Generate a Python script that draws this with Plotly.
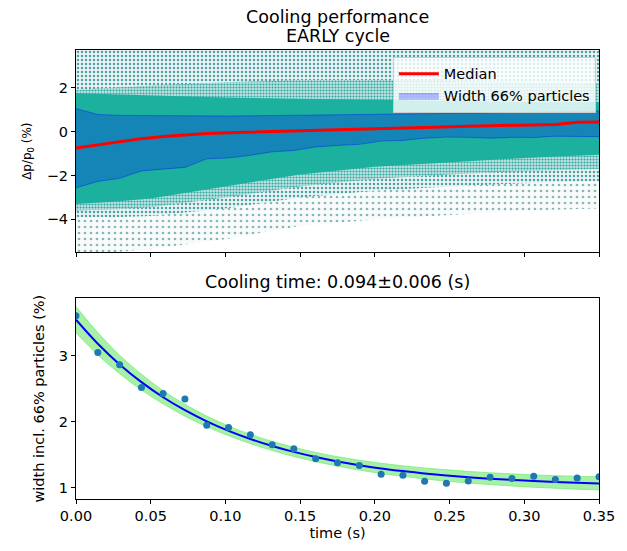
import plotly.graph_objects as go

# ---------------- data ----------------
# sampling times (s)
time_s = [0.0, 0.0146, 0.0292, 0.0438, 0.0583, 0.0729, 0.0875, 0.1021, 0.1167,
          0.1313, 0.1458, 0.1604, 0.175, 0.1896, 0.2042, 0.2188, 0.2333, 0.2479,
          0.2625, 0.2771, 0.2917, 0.3063, 0.3208, 0.3354, 0.35]

# width including 66% of the particles (%) - measured points
width66 = [3.61, 3.05, 2.865, 2.52, 2.43, 2.345, 1.946, 1.91, 1.80, 1.65, 1.59,
           1.436, 1.376, 1.336, 1.20, 1.185, 1.096, 1.066, 1.10, 1.156, 1.135,
           1.17, 1.12, 1.145, 1.165]

# exponential fit (tau = 0.094 s) and its uncertainty band
fit_curve = [3.550, 3.184, 2.870, 2.601, 2.371, 2.174, 2.005, 1.861, 1.737, 1.631,
             1.541, 1.463, 1.396, 1.339, 1.290, 1.249, 1.213, 1.183, 1.156, 1.134,
             1.115, 1.098, 1.084, 1.072, 1.062]
fit_upper = [3.75, 3.354, 3.01, 2.721, 2.471, 2.264, 2.085, 1.936, 1.807, 1.701,
             1.611, 1.533, 1.468, 1.414, 1.368, 1.329, 1.296, 1.269, 1.244, 1.224,
             1.207, 1.192, 1.180, 1.170, 1.162]
fit_lower = [3.35, 3.014, 2.73, 2.481, 2.271, 2.084, 1.925, 1.786, 1.667, 1.561,
             1.471, 1.393, 1.324, 1.264, 1.212, 1.169, 1.130, 1.097, 1.068, 1.044,
             1.023, 1.004, 0.988, 0.974, 0.962]

# momentum spread: median and 66% band edges (%)
median_dp = [-0.75, -0.60, -0.45, -0.32, -0.22, -0.15, -0.09, -0.05, -0.02, 0.0,
             0.05, 0.08, 0.09, 0.12, 0.15, 0.17, 0.19, 0.23, 0.25, 0.27, 0.29,
             0.30, 0.32, 0.43, 0.44]
q_upper = [1.05, 0.78, 0.74, 0.73, 0.72, 0.72, 0.71, 0.71, 0.72, 0.73, 0.73, 0.74,
           0.75, 0.76, 0.77, 0.79, 0.80, 0.82, 0.84, 0.86, 0.88, 0.90, 0.91, 0.93, 0.94]
q_lower = [-2.56, -2.27, -2.13, -1.79, -1.71, -1.63, -1.24, -1.20, -1.08, -0.92,
           -0.86, -0.70, -0.63, -0.58, -0.43, -0.40, -0.30, -0.25, -0.26, -0.30,
           -0.26, -0.27, -0.21, -0.22, -0.23]

# particle density envelopes (%), dense core -> sparse tails
env_time = [0.0, 0.025, 0.05, 0.10, 0.15, 0.20, 0.25, 0.30, 0.35]
core_hi = [1.75, 1.70, 1.65, 1.55, 1.50, 1.45, 1.40, 1.35, 1.35]
core_lo = [-3.30, -3.20, -3.05, -2.50, -1.95, -1.60, -1.40, -1.20, -1.05]
near_hi = [1.90, 2.00, 2.10, 2.25, 2.35, 2.35, 2.30, 2.25, 2.20]
near_lo = [-3.60, -3.55, -3.45, -3.00, -2.50, -2.15, -1.95, -1.80, -1.70]
halo_hi = [3.8, 3.8, 3.8, 3.8, 3.8, 3.8, 3.8, 3.8, 3.8]
halo_lo = [-3.90, -3.90, -3.85, -3.50, -3.00, -2.70, -2.50, -2.35, -2.25]
sparse_hi = [3.8, 3.8, 3.8, 3.8, 3.8, 3.8, 3.8, 3.8, 3.8]
sparse_lo = [-5.60, -5.50, -5.35, -4.90, -4.30, -4.00, -3.80, -3.60, -3.50]

x_ticks = [0.0, 0.05, 0.10, 0.15, 0.20, 0.25, 0.30, 0.35]

FONT = "DejaVu Sans"
TICK = 14.5
TITLE = 17.5

fig = go.Figure()


def region(hi, lo, color, pattern=None):
    kw = {}
    if pattern is not None:
        kw["fillpattern"] = pattern
    fig.add_trace(go.Scatter(
        x=env_time + env_time[::-1], y=hi + lo[::-1],
        fill="toself", fillcolor=color, mode="lines", line=dict(width=0),
        showlegend=False, hoverinfo="skip", xaxis="x", yaxis="y", **kw))


region(sparse_hi, sparse_lo, "#ffffff",
       dict(shape=".", fgcolor="#86b8bb", bgcolor="#f9fbfb", size=6, solidity=0.16,
            fillmode="replace"))
region(halo_hi, halo_lo, "#ffffff",
       dict(shape=".", fgcolor="#4ea3a6", bgcolor="#edf4f4", size=4, solidity=0.32,
            fillmode="replace"))
region(near_hi, near_lo, "#ffffff",
       dict(shape=".", fgcolor="#28a9a2", bgcolor="#c4e2e0", size=3, solidity=0.4,
            fillmode="replace"))
region(core_hi, core_lo, "#1cb09e")

# 66% band
fig.add_trace(go.Scatter(x=time_s, y=q_lower, mode="lines",
                         line=dict(color="rgba(0,0,255,0.35)", width=1),
                         showlegend=False, hoverinfo="skip", xaxis="x", yaxis="y"))
fig.add_trace(go.Scatter(x=time_s, y=q_upper, mode="lines", fill="tonexty",
                         fillcolor="rgba(0,0,255,0.25)",
                         line=dict(color="rgba(0,0,255,0.35)", width=1),
                         name="Width 66% particles", legendrank=2,
                         xaxis="x", yaxis="y"))
fig.add_trace(go.Scatter(x=time_s, y=median_dp, mode="lines",
                         line=dict(color="red", width=3),
                         name="Median", legendrank=1, xaxis="x", yaxis="y"))

# bottom panel
fig.add_trace(go.Scatter(x=time_s, y=fit_lower, mode="lines",
                         line=dict(color="rgba(120,235,120,0.75)", width=1, shape="spline"),
                         showlegend=False, hoverinfo="skip", xaxis="x2", yaxis="y2"))
fig.add_trace(go.Scatter(x=time_s, y=fit_upper, mode="lines", fill="tonexty",
                         fillcolor="rgba(144,238,144,0.8)",
                         line=dict(color="rgba(120,235,120,0.75)", width=1, shape="spline"),
                         showlegend=False, hoverinfo="skip", xaxis="x2", yaxis="y2"))
fig.add_trace(go.Scatter(x=time_s, y=fit_curve, mode="lines",
                         line=dict(color="#0000ff", width=2, shape="spline"),
                         showlegend=False, xaxis="x2", yaxis="y2"))
fig.add_trace(go.Scatter(x=time_s, y=width66, mode="markers",
                         marker=dict(color="#1f77b4", size=7),
                         showlegend=False, xaxis="x2", yaxis="y2"))

axis_common = dict(showline=True, mirror=True, linecolor="black", linewidth=1,
                   ticks="outside", ticklen=4, tickcolor="black", showgrid=False,
                   zeroline=False, tickfont=dict(family=FONT, size=TICK, color="black"))

# the page body adds an 8 px offset; compensate so the plot lands where the reference has it
OFF = 8
W, H = 627 - OFF, 551 - OFF
M_L, M_R, M_T, M_B = 76 - OFF, 24, 50 - OFF, 46
plot_h = H - M_T - M_B
BOTTOM_PX = 505  # absolute pixel row of the lower plot's bottom edge


def py(px):
    return (BOTTOM_PX - px) / plot_h


fig.update_layout(
    width=W, height=H,
    margin=dict(l=M_L, r=M_R, t=M_T, b=M_B),
    paper_bgcolor="white", plot_bgcolor="white",
    font=dict(family=FONT, size=TICK, color="black"),
    xaxis=dict(domain=[0, 1], range=[0, 0.35], tickvals=x_ticks,
               showticklabels=False, anchor="y", **axis_common),
    yaxis=dict(domain=[py(255), 1.0], range=[-5.5, 3.72],
               tickvals=[-4, -2, 0, 2], anchor="x",
               title=dict(text="Δp/p<sub>0</sub> (%)", font=dict(family=FONT, size=12),
                          standoff=12),
               **axis_common),
    xaxis2=dict(domain=[0, 1], range=[0, 0.35], tickvals=x_ticks, tickformat=".2f",
                anchor="y2",
                title=dict(text="time (s)", font=dict(family=FONT, size=TICK), standoff=4),
                **axis_common),
    yaxis2=dict(domain=[0, py(301.7)], range=[0.825, 3.874],
                tickvals=[1, 2, 3], anchor="x2",
                title=dict(text="width incl. 66% particles (%)",
                           font=dict(family=FONT, size=TICK), standoff=10),
                **axis_common),
    legend=dict(x=0.994, y=0.9846, xanchor="right", yanchor="top", traceorder="normal",
                bgcolor="rgba(255,255,255,0.8)", bordercolor="#cccccc", borderwidth=1,
                font=dict(family=FONT, size=TICK), tracegroupgap=0, itemwidth=40),
    annotations=[
        dict(text="Cooling performance", x=0.5, y=py(17),
             xref="paper", yref="paper", showarrow=False, xanchor="center",
             yanchor="middle", font=dict(family=FONT, size=TITLE)),
        dict(text="EARLY cycle", x=0.5, y=py(36),
             xref="paper", yref="paper", showarrow=False, xanchor="center",
             yanchor="middle", font=dict(family=FONT, size=TITLE)),
        dict(text="Cooling time: 0.094±0.006 (s)", x=0.5, y=py(285.5),
             xref="paper", yref="paper", showarrow=False, xanchor="center",
             yanchor="middle", font=dict(family=FONT, size=TITLE)),
    ],
)

fig.write_html("out.html")
